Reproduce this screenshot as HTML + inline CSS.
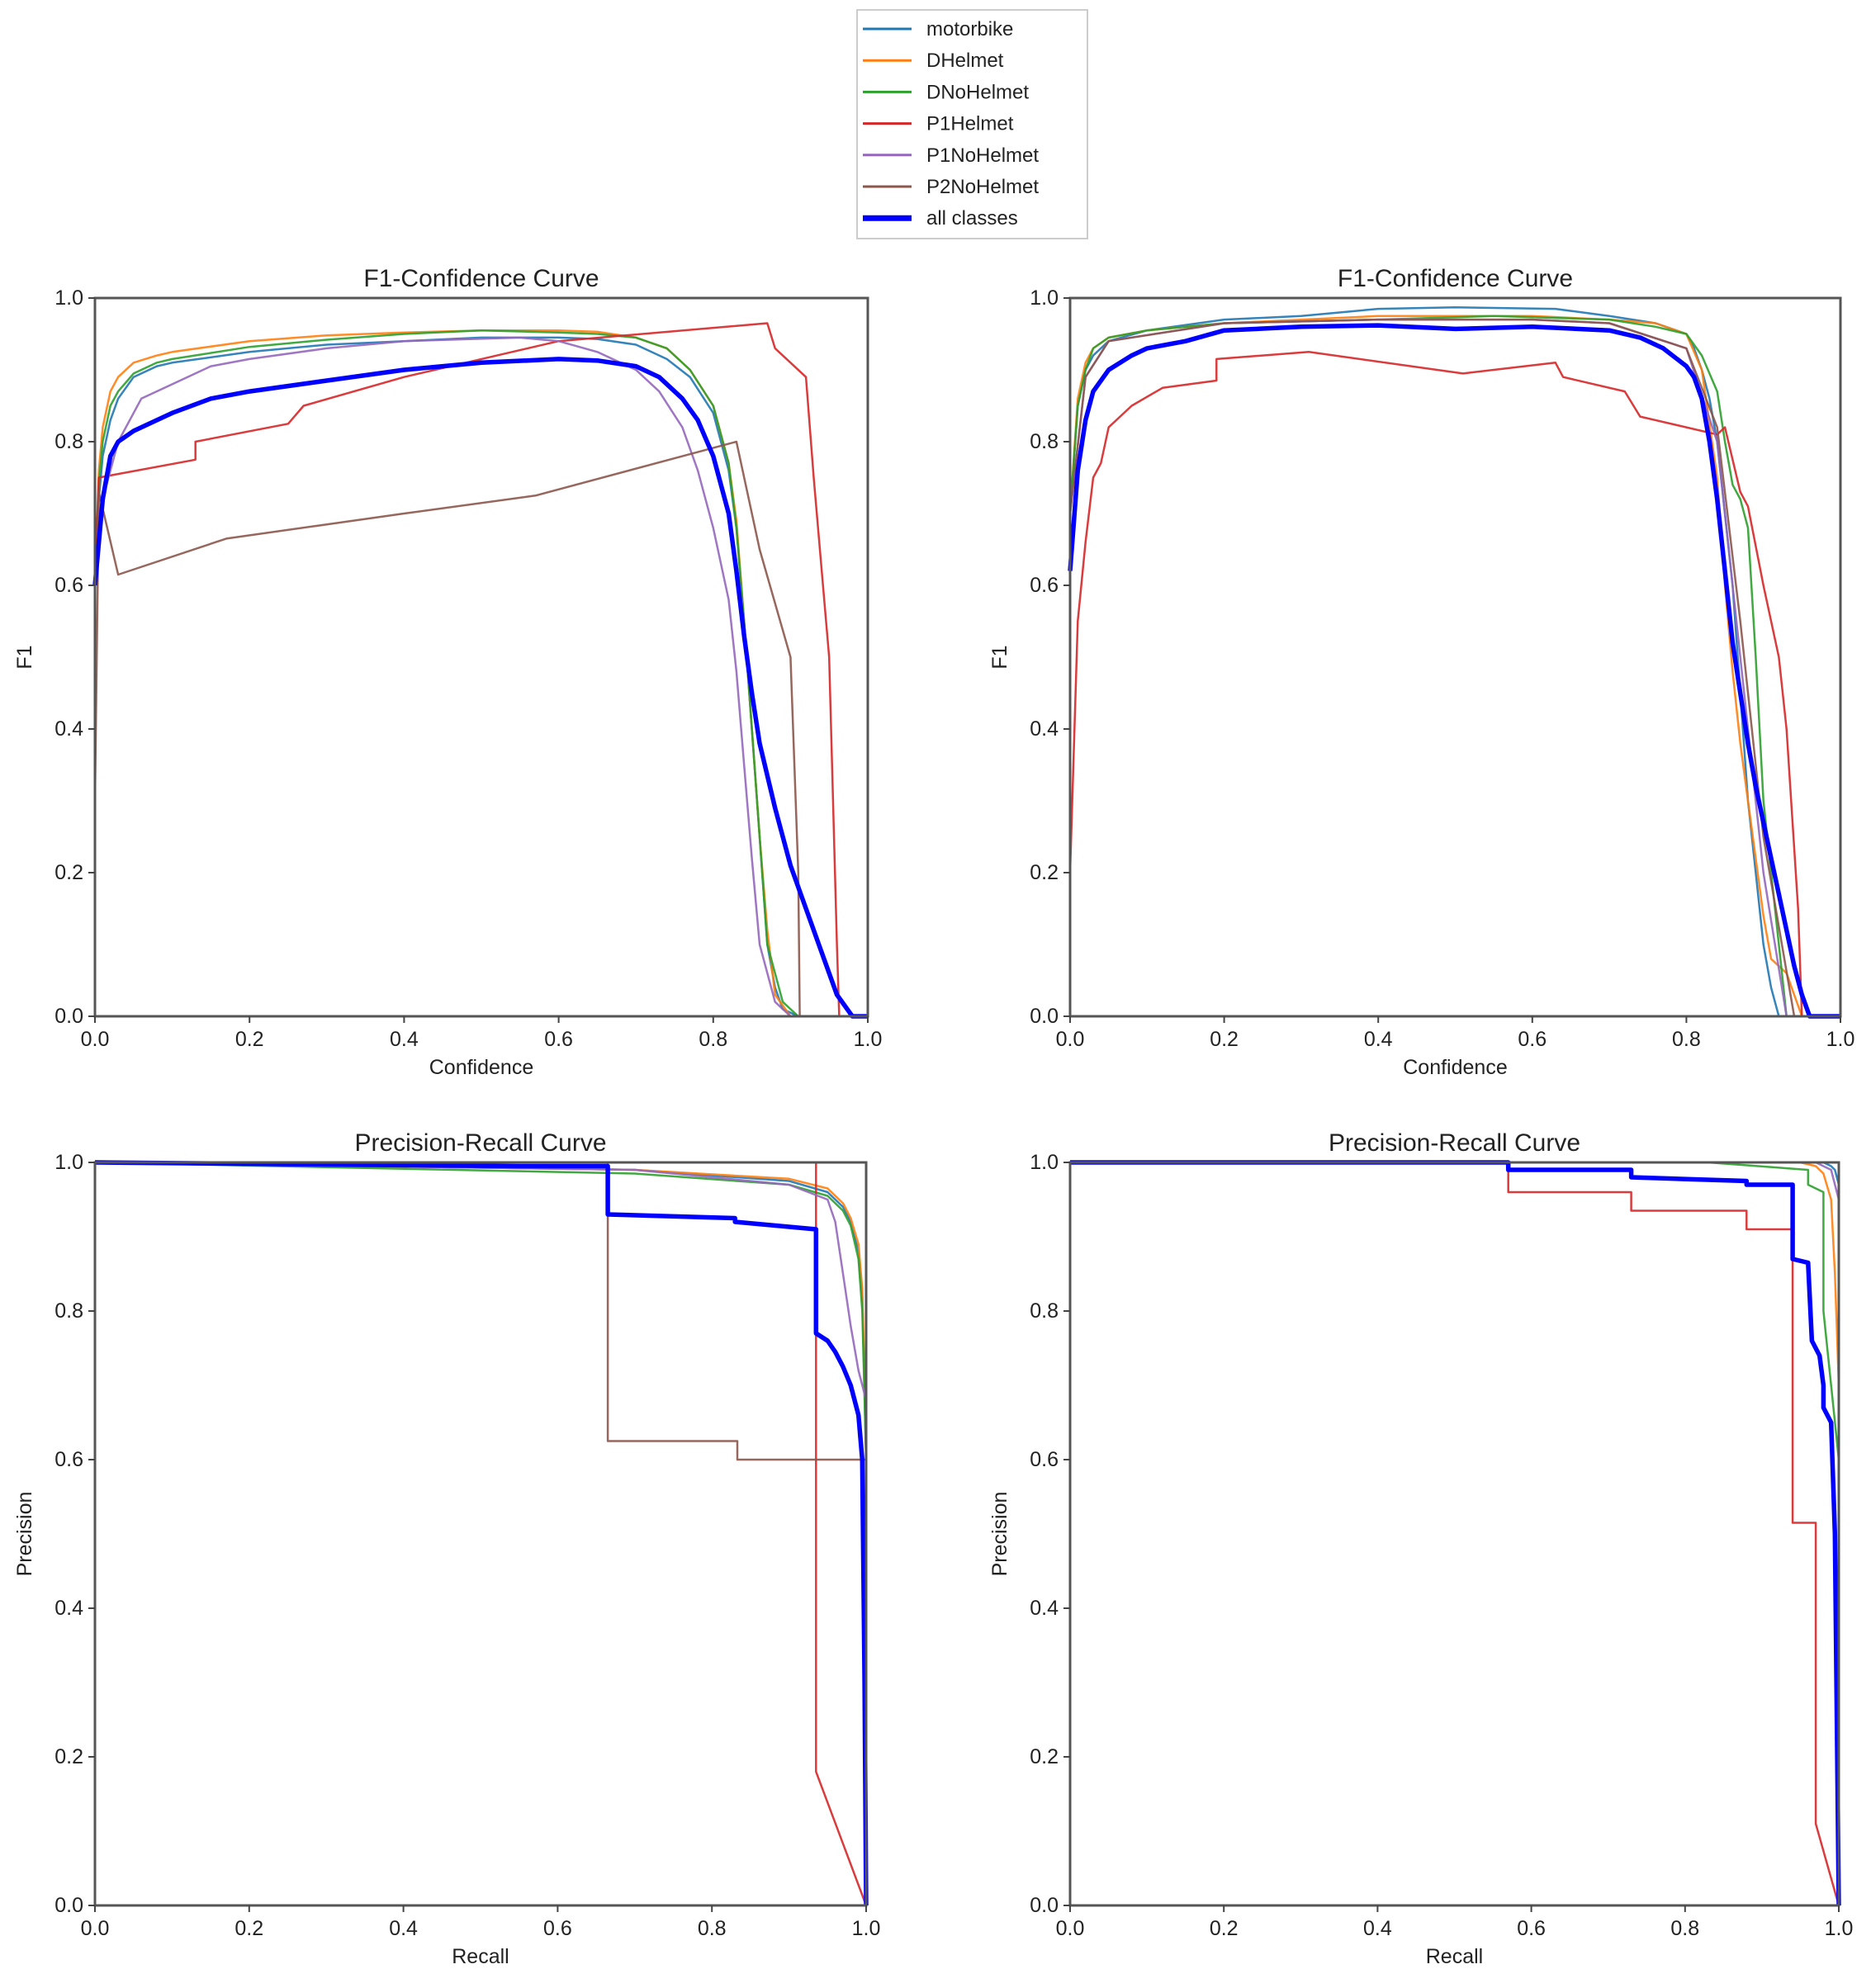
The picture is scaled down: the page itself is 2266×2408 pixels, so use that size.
<!DOCTYPE html>
<html><head><meta charset="utf-8">
<style>
html,body{margin:0;padding:0;background:#fff;}
svg{display:block;font-family:"Liberation Sans","DejaVu Sans",sans-serif;}
</style></head>
<body>
<svg id="chart" width="2266" height="2408" viewBox="0 0 2266 2408" xmlns="http://www.w3.org/2000/svg">
<g id="legend"></g>
<g id="plots"></g>
</svg>
<script>
const seriesNames = ["motorbike","DHelmet","DNoHelmet","P1Helmet","P1NoHelmet","P2NoHelmet","all classes"];
const seriesColors = ["#1f77b4","#ff7f0e","#2ca02c","#d62728","#9467bd","#8c564b","#0000ff"];
const tickLabels = ["0.0","0.2","0.4","0.6","0.8","1.0"];
const tickValues = [0,0.2,0.4,0.6,0.8,1.0];

// F1-Confidence (left)
const f1L_motorbike_x = [0,0.005,0.01,0.02,0.03,0.05,0.08,0.1,0.2,0.3,0.4,0.5,0.6,0.65,0.7,0.74,0.77,0.8,0.82,0.83,0.84,0.85,0.86,0.87,0.88,0.89,0.91,1];
const f1L_motorbike_y = [0.6,0.72,0.78,0.83,0.86,0.89,0.905,0.91,0.925,0.935,0.94,0.945,0.945,0.943,0.935,0.915,0.89,0.84,0.76,0.68,0.55,0.4,0.25,0.1,0.04,0.01,0,0];
const f1L_dhelmet_x = [0,0.005,0.01,0.02,0.03,0.05,0.08,0.1,0.2,0.3,0.4,0.5,0.6,0.65,0.7,0.74,0.77,0.8,0.82,0.83,0.84,0.85,0.86,0.87,0.88,0.9,1];
const f1L_dhelmet_y = [0.6,0.76,0.82,0.87,0.89,0.91,0.92,0.925,0.94,0.948,0.952,0.955,0.955,0.953,0.945,0.93,0.9,0.85,0.77,0.69,0.55,0.4,0.25,0.12,0.03,0,0];
const f1L_dnohelmet_x = [0,0.005,0.01,0.02,0.03,0.05,0.08,0.1,0.2,0.3,0.4,0.5,0.6,0.65,0.7,0.74,0.77,0.8,0.82,0.83,0.84,0.85,0.86,0.87,0.89,0.91,1];
const f1L_dnohelmet_y = [0.6,0.74,0.8,0.85,0.87,0.895,0.91,0.915,0.932,0.942,0.95,0.955,0.952,0.95,0.945,0.93,0.9,0.85,0.77,0.68,0.55,0.4,0.25,0.1,0.02,0,0];
const f1L_p1helmet_x = [0,0.005,0.03,0.13,0.13,0.25,0.27,0.4,0.6,0.87,0.88,0.92,0.93,0.95,0.96,0.963,1];
const f1L_p1helmet_y = [0.6,0.75,0.755,0.775,0.8,0.825,0.85,0.89,0.94,0.965,0.93,0.89,0.75,0.5,0.1,0,0];
const f1L_p1nohelmet_x = [0,0.01,0.03,0.06,0.1,0.15,0.2,0.3,0.4,0.55,0.6,0.65,0.7,0.73,0.76,0.78,0.8,0.82,0.83,0.84,0.85,0.86,0.88,0.9,1];
const f1L_p1nohelmet_y = [0.6,0.72,0.8,0.86,0.88,0.905,0.915,0.93,0.94,0.945,0.94,0.925,0.9,0.87,0.82,0.76,0.68,0.58,0.48,0.35,0.22,0.1,0.02,0,0];
const f1L_p2nohelmet_x = [0,0.005,0.03,0.17,0.4,0.57,0.83,0.86,0.9,0.91,0.912,1];
const f1L_p2nohelmet_y = [0.3,0.73,0.615,0.665,0.7,0.725,0.8,0.65,0.5,0.2,0,0];
const f1L_all_x = [0,0.01,0.02,0.03,0.05,0.1,0.15,0.2,0.3,0.4,0.5,0.6,0.65,0.7,0.73,0.76,0.78,0.8,0.82,0.83,0.84,0.85,0.86,0.88,0.9,0.92,0.94,0.96,0.98,1];
const f1L_all_y = [0.6,0.72,0.78,0.8,0.815,0.84,0.86,0.87,0.885,0.9,0.91,0.915,0.913,0.905,0.89,0.86,0.83,0.78,0.7,0.62,0.53,0.45,0.38,0.29,0.21,0.15,0.09,0.03,0,0];

// F1-Confidence (right)
const f1R_motorbike_x = [0,0.01,0.02,0.03,0.05,0.1,0.2,0.3,0.4,0.5,0.63,0.7,0.76,0.8,0.81,0.82,0.83,0.84,0.85,0.86,0.87,0.88,0.89,0.9,0.91,0.92,1];
const f1R_motorbike_y = [0.7,0.85,0.9,0.92,0.94,0.955,0.97,0.975,0.985,0.987,0.985,0.975,0.965,0.95,0.93,0.9,0.86,0.8,0.7,0.6,0.45,0.3,0.2,0.1,0.04,0,0,0];
const f1R_dhelmet_x = [0,0.01,0.02,0.03,0.05,0.1,0.2,0.4,0.6,0.7,0.76,0.8,0.82,0.84,0.85,0.86,0.87,0.88,0.9,0.91,0.93,0.95,1];
const f1R_dhelmet_y = [0.7,0.86,0.91,0.93,0.945,0.955,0.965,0.975,0.975,0.97,0.965,0.95,0.9,0.75,0.6,0.48,0.38,0.3,0.14,0.08,0.06,0,0];
const f1R_dnohelmet_x = [0,0.01,0.02,0.03,0.05,0.1,0.2,0.4,0.55,0.7,0.76,0.8,0.82,0.84,0.85,0.86,0.87,0.88,0.89,0.9,0.92,0.93,1];
const f1R_dnohelmet_y = [0.7,0.85,0.9,0.93,0.945,0.955,0.965,0.97,0.975,0.97,0.96,0.95,0.92,0.87,0.8,0.74,0.72,0.68,0.5,0.3,0.1,0,0];
const f1R_p1helmet_x = [0,0.01,0.02,0.03,0.04,0.05,0.08,0.12,0.19,0.19,0.31,0.51,0.63,0.64,0.72,0.74,0.84,0.85,0.87,0.88,0.9,0.92,0.93,0.945,0.95,1];
const f1R_p1helmet_y = [0.2,0.55,0.66,0.75,0.77,0.82,0.85,0.875,0.885,0.915,0.925,0.895,0.91,0.89,0.87,0.835,0.81,0.82,0.73,0.71,0.6,0.5,0.4,0.15,0,0];
const f1R_p1nohelmet_x = [0,0.02,0.05,0.2,0.4,0.6,0.7,0.8,0.84,0.87,0.9,0.93,1];
const f1R_p1nohelmet_y = [0.7,0.89,0.94,0.965,0.97,0.97,0.965,0.93,0.8,0.5,0.2,0,0];
const f1R_p2nohelmet_x = [0,0.02,0.05,0.2,0.4,0.6,0.7,0.8,0.84,0.87,0.9,0.94,1];
const f1R_p2nohelmet_y = [0.7,0.89,0.94,0.965,0.97,0.97,0.965,0.93,0.82,0.55,0.25,0,0];
const f1R_all_x = [0,0.01,0.02,0.03,0.05,0.08,0.1,0.15,0.2,0.3,0.4,0.5,0.6,0.7,0.74,0.77,0.8,0.81,0.82,0.83,0.84,0.85,0.86,0.87,0.88,0.89,0.9,0.91,0.92,0.93,0.94,0.95,0.96,1];
const f1R_all_y = [0.62,0.76,0.83,0.87,0.9,0.92,0.93,0.94,0.955,0.96,0.962,0.957,0.96,0.955,0.945,0.93,0.905,0.89,0.86,0.8,0.72,0.62,0.52,0.45,0.38,0.32,0.27,0.22,0.17,0.12,0.07,0.03,0,0];

// Precision-Recall (left)
const prL_motorbike_x = [0,0.7,0.9,0.95,0.97,0.98,0.99,0.995,1,1];
const prL_motorbike_y = [1,0.99,0.975,0.96,0.94,0.92,0.88,0.82,0.6,0];
const prL_dhelmet_x = [0,0.7,0.9,0.95,0.97,0.98,0.99,0.995,1,1];
const prL_dhelmet_y = [1,0.99,0.978,0.965,0.945,0.925,0.89,0.83,0.62,0];
const prL_dnohelmet_x = [0,0.7,0.9,0.95,0.97,0.98,0.99,0.995,1,1];
const prL_dnohelmet_y = [1,0.985,0.97,0.955,0.935,0.915,0.87,0.8,0.6,0];
const prL_p1helmet_x = [0,0.935,0.935,1];
const prL_p1helmet_y = [1,1,0.18,0];
const prL_p1nohelmet_x = [0,0.7,0.9,0.95,0.96,0.97,0.98,0.99,1,1];
const prL_p1nohelmet_y = [1,0.99,0.97,0.95,0.92,0.85,0.78,0.72,0.68,0];
const prL_p2nohelmet_x = [0,0.665,0.665,0.833,0.833,1,1];
const prL_p2nohelmet_y = [1,1,0.625,0.625,0.6,0.6,0];
const prL_all_x = [0,0.55,0.665,0.665,0.83,0.83,0.935,0.935,0.95,0.96,0.97,0.98,0.99,0.995,0.998,1];
const prL_all_y = [1,0.995,0.995,0.93,0.925,0.92,0.91,0.77,0.76,0.745,0.725,0.7,0.66,0.6,0.3,0];

// Precision-Recall (right)
const prR_motorbike_x = [0,0.98,0.99,0.995,1,1];
const prR_motorbike_y = [1,1,0.995,0.99,0.97,0];
const prR_dhelmet_x = [0,0.95,0.97,0.98,0.99,0.995,1,1];
const prR_dhelmet_y = [1,1,0.995,0.985,0.95,0.85,0.7,0];
const prR_dnohelmet_x = [0,0.83,0.96,0.96,0.98,0.98,0.99,1,1];
const prR_dnohelmet_y = [1,1,0.99,0.97,0.96,0.8,0.7,0.6,0];
const prR_p1helmet_x = [0,0.57,0.57,0.73,0.73,0.88,0.88,0.94,0.94,0.97,0.97,1];
const prR_p1helmet_y = [1,1,0.96,0.96,0.935,0.935,0.91,0.91,0.515,0.515,0.11,0];
const prR_p1nohelmet_x = [0,0.97,0.99,1,1];
const prR_p1nohelmet_y = [1,1,0.99,0.95,0];
const prR_p2nohelmet_x = [0,1,1];
const prR_p2nohelmet_y = [1,1,0];
const prR_all_x = [0,0.57,0.57,0.73,0.73,0.88,0.88,0.94,0.94,0.96,0.965,0.975,0.98,0.98,0.99,0.995,1];
const prR_all_y = [1,1,0.99,0.99,0.98,0.975,0.97,0.97,0.87,0.865,0.76,0.74,0.7,0.67,0.65,0.5,0];

const NS = "http://www.w3.org/2000/svg";
function mk(tag, attrs, parent){const e=document.createElementNS(NS,tag);for(const k in attrs)e.setAttribute(k,attrs[k]);parent.appendChild(e);return e;}

const panels = [
 {id:"f1-left", title:"F1-Confidence Curve", xlab:"Confidence", ylab:"F1", L:115,R:1051,T:361,B:1231,
  xs:[f1L_motorbike_x,f1L_dhelmet_x,f1L_dnohelmet_x,f1L_p1helmet_x,f1L_p1nohelmet_x,f1L_p2nohelmet_x,f1L_all_x],
  ys:[f1L_motorbike_y,f1L_dhelmet_y,f1L_dnohelmet_y,f1L_p1helmet_y,f1L_p1nohelmet_y,f1L_p2nohelmet_y,f1L_all_y]},
 {id:"f1-right", title:"F1-Confidence Curve", xlab:"Confidence", ylab:"F1", L:1296,R:2229,T:361,B:1231,
  xs:[f1R_motorbike_x,f1R_dhelmet_x,f1R_dnohelmet_x,f1R_p1helmet_x,f1R_p1nohelmet_x,f1R_p2nohelmet_x,f1R_all_x],
  ys:[f1R_motorbike_y,f1R_dhelmet_y,f1R_dnohelmet_y,f1R_p1helmet_y,f1R_p1nohelmet_y,f1R_p2nohelmet_y,f1R_all_y]},
 {id:"pr-left", title:"Precision-Recall Curve", xlab:"Recall", ylab:"Precision", L:115,R:1049,T:1408,B:2308,
  xs:[prL_motorbike_x,prL_dhelmet_x,prL_dnohelmet_x,prL_p1helmet_x,prL_p1nohelmet_x,prL_p2nohelmet_x,prL_all_x],
  ys:[prL_motorbike_y,prL_dhelmet_y,prL_dnohelmet_y,prL_p1helmet_y,prL_p1nohelmet_y,prL_p2nohelmet_y,prL_all_y]},
 {id:"pr-right", title:"Precision-Recall Curve", xlab:"Recall", ylab:"Precision", L:1296,R:2227,T:1408,B:2308,
  xs:[prR_motorbike_x,prR_dhelmet_x,prR_dnohelmet_x,prR_p1helmet_x,prR_p1nohelmet_x,prR_p2nohelmet_x,prR_all_x],
  ys:[prR_motorbike_y,prR_dhelmet_y,prR_dnohelmet_y,prR_p1helmet_y,prR_p1nohelmet_y,prR_p2nohelmet_y,prR_all_y]}
];

const plots = document.getElementById("plots");
panels.forEach(p=>{
  const g = mk("g",{},plots);
  
  
  const sx = v => p.L + v*(p.R-p.L);
  const sy = v => p.B - v*(p.B-p.T);
  p.xs.forEach((xa,i)=>{
    const ya = p.ys[i];
    const pts = xa.map((x,j)=>sx(x).toFixed(1)+","+sy(ya[j]).toFixed(1)).join(" ");
    const pl = mk("polyline",{points:pts,fill:"none",stroke:seriesColors[i],"stroke-width":i===6?5.5:2.5,"stroke-linejoin":"round","stroke-opacity":i===6?1:0.9},g);
    
    
  });
  const fr = mk("rect",{x:p.L,y:p.T,width:p.R-p.L,height:p.B-p.T,fill:"none",stroke:"#555","stroke-width":3},g);
  
  
  tickValues.forEach((v,k)=>{
    mk("line",{x1:sx(v),x2:sx(v),y1:p.B,y2:p.B+8,stroke:"#444","stroke-width":2},g);
    const tx = mk("text",{x:sx(v),y:p.B+36,"text-anchor":"middle","font-size":25,fill:"#222"},g);
    tx.textContent = tickLabels[k];
    
    
    mk("line",{x1:p.L-8,x2:p.L,y1:sy(v),y2:sy(v),stroke:"#444","stroke-width":2},g);
    const ty = mk("text",{x:p.L-14,y:sy(v)+8,"text-anchor":"end","font-size":25,fill:"#222"},g);
    ty.textContent = tickLabels[k];
    
    
  });
  const t = mk("text",{x:(p.L+p.R)/2,y:p.T-14,"text-anchor":"middle","font-size":30,fill:"#222"},g);
  t.textContent = p.title;
  
  
  const xl = mk("text",{x:(p.L+p.R)/2,y:p.B+70,"text-anchor":"middle","font-size":25,fill:"#222"},g);
  xl.textContent = p.xlab;
  
  
  const cy = (p.T+p.B)/2, cx = p.L-77;
  const yl = mk("text",{x:cx,y:cy,"text-anchor":"middle","font-size":25,fill:"#222",transform:"rotate(-90 "+cx+" "+cy+")"},g);
  yl.textContent = p.ylab;
  
  
});

const lg = document.getElementById("legend");
mk("rect",{x:1038,y:12,width:279,height:277,fill:"#fff",stroke:"#ccc","stroke-width":2},lg);
seriesNames.forEach((n,i)=>{
  const y = 35 + i*38.2;
  const ln = mk("line",{x1:1045,x2:1104,y1:y,y2:y,stroke:seriesColors[i],"stroke-width":i===6?7:3},lg);
  
  
  const tx = mk("text",{x:1122,y:y+8,"font-size":24,fill:"#222"},lg);
  tx.textContent = n;
  
  
});
</script>
</body></html>
